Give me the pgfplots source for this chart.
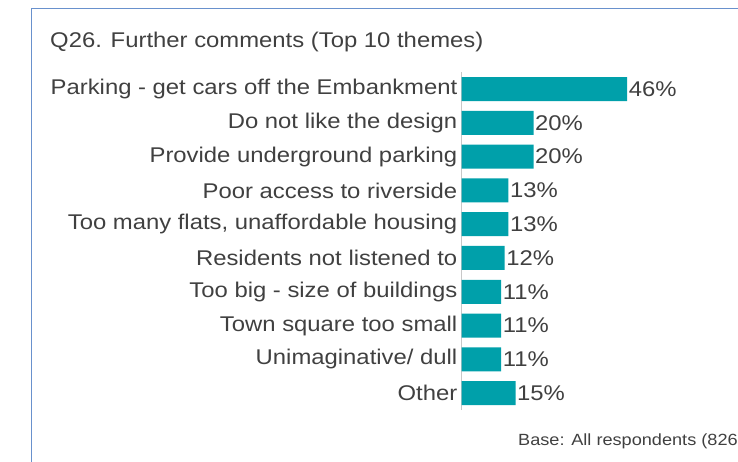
\documentclass[border=0pt]{standalone}
\usepackage{pgfplots}
\pgfplotsset{compat=1.18}
\usepackage{fontspec}
\setmainfont{Liberation Sans}[FakeStretch=1.12]
\definecolor{barteal}{RGB}{0,160,170}
\definecolor{txtgray}{RGB}{64,64,64}
\definecolor{axgray}{RGB}{200,200,200}
\definecolor{frameblue}{RGB}{105,145,205}
\begin{document}
\begin{tikzpicture}[x=1pt,y=1pt]
\useasboundingbox (0,0) rectangle (738,461);
\draw[frameblue, line width=1.6pt] (31.5,-10) |- (760,452.5);
\node[anchor=base west, inner sep=0, text=txtgray, font=\fontsize{21.3}{25}\selectfont]
  at (50,413) {Q26. Further comments (Top 10 themes)};
\node[anchor=base west, inner sep=0, text=txtgray, font=\fontsize{16.2}{20}\selectfont]
  at (518,16) {Base: All respondents (826};
\begin{axis}[
  at={(461.5pt,51pt)}, anchor=south west,
  scale only axis, width=270pt, height=337.8pt,
  xbar, bar width=24pt,
  xmin=0, xmax=75,
  ymin=-0.5, ymax=9.5, y dir=reverse,
  axis x line=none,
  axis y line*=left,
  y axis line style={axgray, line width=1.4pt},
  ytick={0,...,9},
  yticklabels={Parking - get cars off the Embankment,Do not like the design,Provide underground parking,Poor access to riverside,{Too many flats, unaffordable housing},Residents not listened to,Too big - size of buildings,Town square too small,Unimaginative/ dull,Other},
  major tick length=0pt,
  ytick style={draw=none},
  yticklabel style={font=\fontsize{21.3}{25}\selectfont, text=txtgray, inner sep=0pt},
  tick label style={/pgf/number format/assume math mode=true},
  y tick label style={xshift=-4pt},
  point meta=x,
  nodes near coords={\pgfmathprintnumber[assume math mode=true]{\pgfplotspointmeta}\%},
  nodes near coords style={font=\fontsize{21.3}{25}\selectfont, text=txtgray, anchor=west, inner sep=1.5pt},
  clip=false,
]
\addplot[fill=barteal, draw=none] coordinates {
  (46,0) (20,1) (20,2) (13,3) (13,4) (12,5) (11,6) (11,7) (11,8) (15,9)};
\end{axis}
\end{tikzpicture}
\end{document}
